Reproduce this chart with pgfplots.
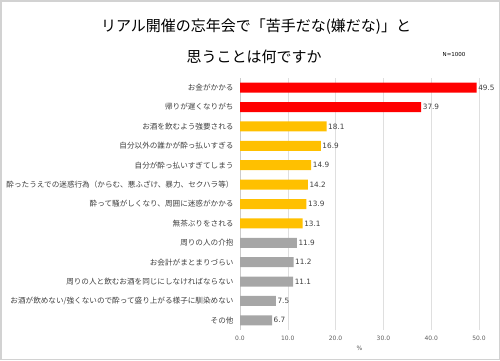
\documentclass[border=0pt]{standalone}
\usepackage{pgfplots}
\pgfplotsset{compat=1.18}
\usepackage{fontspec}
\setmainfont{Noto Sans CJK JP}
\newfontfamily\numfont{DejaVu Sans}
\definecolor{cred}{HTML}{FF0000}
\definecolor{corange}{HTML}{FFC000}
\definecolor{cgrey}{HTML}{A6A6A6}
\definecolor{ctext}{HTML}{404040}
\begin{document}
\begin{tikzpicture}
\path[use as bounding box] (0pt,0pt) rectangle (500pt,360pt);
\draw[gray!35, line width=1.5pt] (0.75pt,0.75pt) rectangle (499.25pt,359.25pt);
\node[font=\fontsize{15}{16}\selectfont] at (256pt,333pt) {リアル開催の忘年会で「苦手だな(嫌だな)」と};
\node[font=\fontsize{15}{16}\selectfont] at (254pt,303pt) {思うことは何ですか};
\node[font=\numfont\fontsize{5.5}{6}\selectfont] at (454pt,306pt) {N=1000};
\begin{axis}[
  at={(240pt,30pt)}, anchor=south west,
  scale only axis, width=239pt, height=252pt,
  xbar, bar width=10pt, bar shift=0pt,
  xmin=0, xmax=50, ymin=-0.5, ymax=12.5,
  y dir=reverse,
  ytick={0,...,12},
  yticklabels={お金がかかる,帰りが遅くなりがち,お酒を飲むよう強要される,自分以外の誰かが酔っ払いすぎる,自分が酔っ払いすぎてしまう,酔ったうえでの迷惑行為（からむ、悪ふざけ、暴力、セクハラ等）,酔って騒がしくなり、周囲に迷惑がかかる,無茶ぶりをされる,周りの人の介抱,お会計がまとまりづらい,周りの人と飲むお酒を同じにしなければならない,お酒が飲めない/強くないので酔って盛り上がる様子に馴染めない,その他},
  yticklabel style={font=\fontsize{7.6}{8}\selectfont, text=ctext, xshift=-3pt},
  xtick={0,10,...,50},
  xticklabel={\pgfmathprintnumber[assume math mode=true,fixed,fixed zerofill,precision=1]{\tick}},
  xticklabel style={font=\numfont\fontsize{6}{7}\selectfont, text=ctext!85, yshift=-3pt},
  xlabel={\%}, xlabel style={font=\numfont\fontsize{6}{7}\selectfont, text=ctext!85, yshift=2pt},
  major tick length=0pt,
  xmajorgrids, grid style={gray!25, line width=0.6pt},
  axis y line*=left, axis x line*=bottom,
  x axis line style={draw=none},
  y axis line style={draw=gray!40, line width=0.6pt, -},
  nodes near coords={\pgfmathprintnumber[assume math mode=true,fixed,fixed zerofill,precision=1]{\pgfplotspointmeta}},
  point meta=x,
  every node near coord/.append style={font=\numfont\fontsize{7.3}{8}\selectfont, text=ctext, anchor=west, inner sep=1.5pt},
  clip=false,
]
\addplot[fill=cred, draw=none] coordinates {(49.5,0) (37.9,1)};
\addplot[fill=corange, draw=none] coordinates {(18.1,2) (16.9,3) (14.9,4) (14.2,5) (13.9,6) (13.1,7)};
\addplot[fill=cgrey, draw=none] coordinates {(11.9,8) (11.2,9) (11.1,10) (7.5,11) (6.7,12)};
\end{axis}
\end{tikzpicture}
\end{document}
